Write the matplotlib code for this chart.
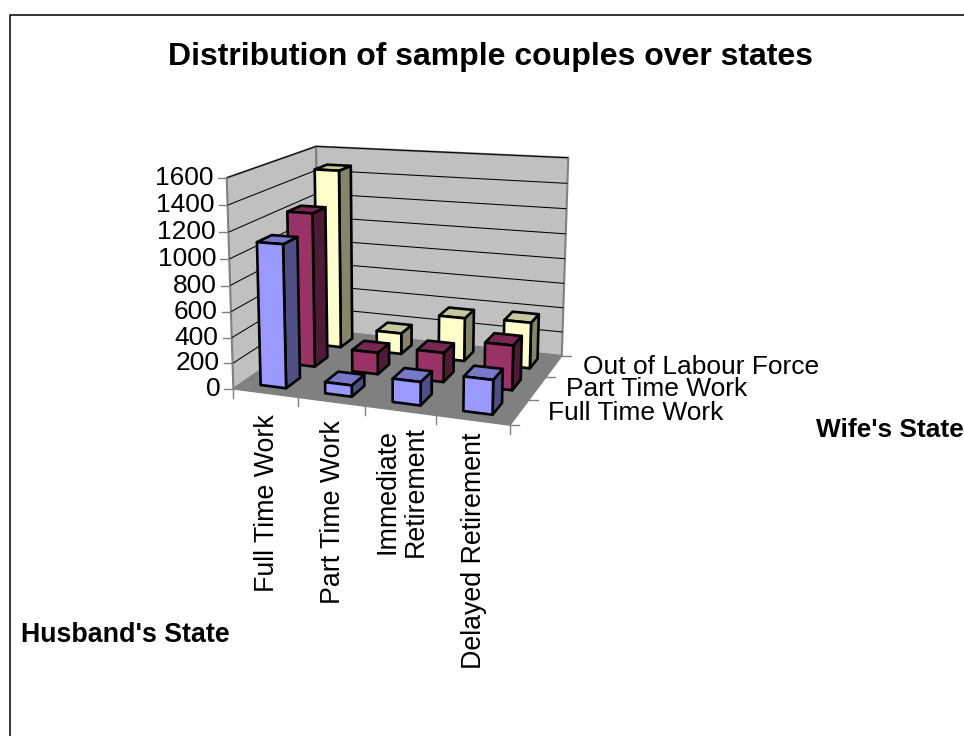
"""Excel-style 3D column chart of couples by husband's and wife's labour state."""
import matplotlib

matplotlib.use("Agg")
import matplotlib.pyplot as plt
from matplotlib.patches import Polygon
import numpy as np

plt.rcParams["font.family"] = ["Liberation Sans", "DejaVu Sans"]

TITLE = "Distribution of sample couples over states"
HUSBAND_STATES = ["Full Time Work", "Part Time Work", "Immediate\nRetirement", "Delayed Retirement"]
WIFE_STATES = ["Full Time Work", "Part Time Work", "Out of Labour Force"]
Z_TICKS = [0, 200, 400, 600, 800, 1000, 1200, 1400, 1600]

FULL_TIME = [1105, 87, 177, 256]
PART_TIME = [1230, 172, 230, 345]
OUT_OF_LF = [1474, 172, 352, 368]
SERIES = [FULL_TIME, PART_TIME, OUT_OF_LF]

# front, side, top
PALETTE = [
    ("#9999ff", "#4f4f85", "#7878c8"),
    ("#993366", "#4f1a35", "#782850"),
    ("#ffffcc", "#85856a", "#c8c8a0"),
]

W, H = 964, 736
ZMAX = 1600.0

# box corners (x, y, z in 0..1) and where they land on the canvas
BOX = np.array([
    (0, 0, 0), (0, 0, 1), (0, 1, 0), (0, 1, 1), (1, 1, 0), (1, 1, 1), (1, 0, 0),
], float)
CANVAS = np.array([
    (234, 388), (226, 178), (318, 331), (317, 146), (562, 355), (568, 158), (510, 426),
], float)


def fit_camera(box, canvas):
    rows, rhs = [], []
    for (x, y, z), (u, v) in zip(box, canvas):
        rows.append([x, y, z, 1, 0, 0, 0, 0, -u * x, -u * y, -u * z])
        rows.append([0, 0, 0, 0, x, y, z, 1, -v * x, -v * y, -v * z])
        rhs += [u, v]
    p = np.linalg.lstsq(np.array(rows), np.array(rhs), rcond=None)[0]
    return np.append(p, 1).reshape(3, 4)


CAM = fit_camera(BOX, CANVAS)


def proj(x, y, z):
    u, v, w = CAM @ np.array([x, y, z, 1.0])
    return u / w, v / w


def face(ax, pts, fc, ec="black", lw=1.9, z=2):
    ax.add_patch(Polygon([proj(*p) for p in pts], closed=True, fc=fc, ec=ec, lw=lw,
                         joinstyle="round", zorder=z))


def seg(ax, a, b, color="black", lw=0.75, z=1):
    pa, pb = proj(*a), proj(*b)
    ax.plot([pa[0], pb[0]], [pa[1], pb[1]], color=color, lw=lw, zorder=z, solid_capstyle="butt")


def draw_bar(ax, i, j, value, colors):
    nx, ny = len(HUSBAND_STATES), len(WIFE_STATES)
    x0, x1 = (i + 0.29) / nx, (i + 0.69) / nx
    y0, y1 = (j + 0.28) / ny, (j + 0.75) / ny
    z = value / ZMAX
    front, side, top = colors
    face(ax, [(x1, y0, 0), (x1, y1, 0), (x1, y1, z), (x1, y0, z)], side)
    face(ax, [(x0, y0, z), (x1, y0, z), (x1, y1, z), (x0, y1, z)], top)
    face(ax, [(x0, y0, 0), (x1, y0, 0), (x1, y0, z), (x0, y0, z)], front)


fig = plt.figure(figsize=(W / 100, H / 100), dpi=100)
ax = fig.add_axes([0, 0, 1, 1])
ax.set_xlim(0, W)
ax.set_ylim(H, 0)
ax.axis("off")

# outer chart frame, cut off at the right and bottom of the canvas
ax.plot([9.5, 9.5, W], [H, 14.5, 14.5], color="black", lw=1.1, zorder=0)

# walls and floor
wall_edge = "#808080"
face(ax, [(0, 0, 0), (0, 1, 0), (0, 1, 1), (0, 0, 1)], "#c0c0c0", wall_edge, 1.5, 0.5)
face(ax, [(0, 1, 0), (1, 1, 0), (1, 1, 1), (0, 1, 1)], "#c0c0c0", wall_edge, 1.5, 0.5)
face(ax, [(0, 0, 0), (1, 0, 0), (1, 1, 0), (0, 1, 0)], "#808080", wall_edge, 1.0, 0.6)

# gridlines and value axis
for tick in Z_TICKS[1:]:
    z = tick / ZMAX
    seg(ax, (0, 0, z), (0, 1, z))
    seg(ax, (0, 1, z), (1, 1, z))
for tick in Z_TICKS:
    z = tick / ZMAX
    u, v = proj(0, 0, z)
    ax.plot([u - 9, u], [v, v], color=wall_edge, lw=1.0, zorder=1)
    ax.text(u - 13, v, str(tick), ha="right", va="center", fontsize=19, color="black")

# ticks along the floor's front and right edges
for i in range(len(HUSBAND_STATES) + 1):
    u, v = proj(i / len(HUSBAND_STATES), 0, 0)
    ax.plot([u, u], [v, v + 9], color=wall_edge, lw=1.0, zorder=1)
for j in range(len(WIFE_STATES) + 1):
    u, v = proj(1, j / len(WIFE_STATES), 0)
    ax.plot([u, u + 9], [v, v], color=wall_edge, lw=1.0, zorder=1)

# back row first so nearer columns overlap it
for j in reversed(range(len(WIFE_STATES))):
    for i in range(len(HUSBAND_STATES)):
        draw_bar(ax, i, j, SERIES[j][i], PALETTE[j])

# category labels; their tops slope less steeply than the floor edge
first_v = proj(0.5 / len(HUSBAND_STATES), 0, 0)[1]
for i, label in enumerate(HUSBAND_STATES):
    u, v = proj((i + 0.5) / len(HUSBAND_STATES), 0, 0)
    top = first_v + 0.67 * (v - first_v) + 21
    ax.text(u + 1.5, top, label, rotation=90, ha="center", va="top", fontsize=19.3,
            linespacing=1.15, multialignment="center")
for j, label in enumerate(WIFE_STATES):
    u, v = proj(1, (j + 0.5) / len(WIFE_STATES), 0)
    ax.text(u + 28.5, v + 1, label, ha="left", va="center", fontsize=19)

ax.text(490, 57, TITLE, ha="center", va="center", fontsize=23, fontweight="bold")
ax.text(964, 430, "Wife's State", ha="right", va="center", fontsize=18.9, fontweight="bold")
ax.text(21, 635, "Husband's State", ha="left", va="center", fontsize=19.3, fontweight="bold")

fig.savefig("out.png", dpi=100)
